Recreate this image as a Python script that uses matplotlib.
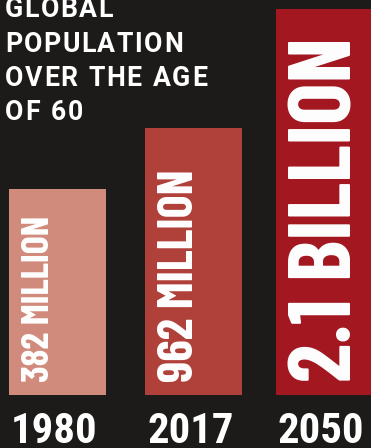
import matplotlib
matplotlib.use("Agg")
import matplotlib.pyplot as plt
from matplotlib import font_manager
from matplotlib.ft2font import FT2Font
import numpy as np

# people aged 60 and over, in millions
years = ["1980", "2017", "2050"]
population_m = [382, 962, 2100]
value_labels = ["382 MILLION", "962 MILLION", "2.1 BILLION"]
title_lines = ["GLOBAL", "POPULATION", "OVER THE AGE", "OF 60"]

bg = "#1c1b19"
bar_colors = ["#d18b7c", "#b0413a", "#a31721"]
label_sizes = [27.5, 35.2, 63.5]   # pt, value labels inside the bars

W, H = 371, 448
DPI = 100
fig = plt.figure(figsize=(W / DPI, H / DPI), dpi=DPI, facecolor=bg)
ax = fig.add_axes([0, 53 / H, 1, 395 / H])
ax.set_facecolor(bg)
ax.axis("off")

# axis floor sits well below zero so the short bars keep room for their labels
floor = -1586
x_pos = np.array([0, 1, 1.963])
bar_w = 0.713
ax.set_xlim(-0.4228, 2.305)
ax.set_ylim(floor, 2186)

vals = np.array(population_m)
bars = ax.bar(x_pos, vals - floor, bottom=floor, width=bar_w, color=bar_colors)

inner = dict(family="Barlow Condensed", weight="bold", color="white")
year_font = dict(family="Roboto Condensed", weight="bold", color="white")
for rect, lab, fs, yr in zip(bars, value_labels, label_sizes, years):
    x0 = rect.get_x()
    cap = 0.700 * fs * DPI / 72
    ax.annotate(lab, xy=(x0, floor), xytext=(13.5 + cap, 13), textcoords="offset pixels",
                rotation=90, rotation_mode="anchor", ha="left", va="baseline",
                fontsize=fs, annotation_clip=False, **inner)
    ax.annotate(yr, xy=(x0, floor), xytext=(2, -48), textcoords="offset pixels",
                ha="left", va="baseline", fontsize=30.8, annotation_clip=False, **year_font)

# letter-spaced title, placed glyph by glyph (text boxes start at the pen position)
title_pt = 19.2
track = 1.5
word_gap = 1.5
fp = font_manager.FontProperties(family="Roboto", weight="bold")
ft = FT2Font(font_manager.findfont(fp))
ft.set_size(title_pt, DPI)
for i, line in enumerate(title_lines):
    base_y = 17.3 + i * 34.2
    pen = 5.0
    for ch in line:
        g = ft.load_char(ord(ch))
        if ch != " ":
            fig.text(pen / W, 1 - base_y / H, ch,
                     fontproperties=fp, fontsize=title_pt, color="white",
                     ha="left", va="baseline")
        else:
            pen += word_gap
        pen += g.linearHoriAdvance / 65536 + track

fig.savefig("out.png", dpi=DPI, facecolor=bg)
